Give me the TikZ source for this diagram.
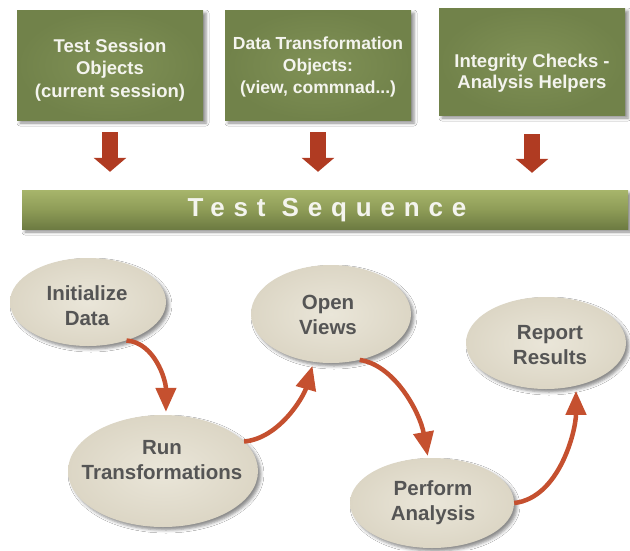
\documentclass[tikz,border=0pt]{standalone}
\usepackage{fontspec}
\setmainfont{Liberation Sans}
\usetikzlibrary{shapes.geometric, arrows.meta, shadows.blur}

\definecolor{boxlight}{HTML}{809156}
\definecolor{boxdark}{HTML}{71824A}
\definecolor{bartop}{HTML}{A7B56B}
\definecolor{barmid}{HTML}{8E9C57}
\definecolor{barbottom}{HTML}{6D7B42}
\definecolor{boxink}{HTML}{F4F4EE}
\definecolor{stagelight}{HTML}{EAE6D9}
\definecolor{stagedark}{HTML}{DCD6C5}
\definecolor{stageink}{HTML}{555555}
\definecolor{flowred}{HTML}{C5502F}
\definecolor{feedred}{HTML}{B03B22}

\begin{document}
\begin{tikzpicture}[x=1pt, y=-1pt,
  softshadow/.style={blur shadow={shadow xshift=3pt, shadow yshift=-3pt,
      shadow blur radius=3pt, shadow opacity=45}},
  topbox/.style={rectangle, inner sep=0pt, minimum width=186pt,
      minimum height=110pt, inner color=boxlight, outer color=boxdark, softshadow},
  boxtext/.style={text=boxink, align=center, inner sep=0pt,
      font=\fontsize{18.5}{22.5}\selectfont\bfseries},
  seqbar/.style={rectangle, inner sep=0pt, minimum width=606pt, minimum height=39pt,
      top color=bartop, bottom color=barbottom, middle color=barmid, softshadow},
  seqtext/.style={text=boxink, inner sep=0pt,
      font=\fontsize{26}{30}\selectfont\bfseries\addfontfeature{LetterSpace=34}},
  stage/.style={ellipse, inner sep=0pt, inner color=stagelight,
      outer color=stagedark, softshadow},
  stagetext/.style={text=stageink, align=center, inner sep=0pt,
      font=\fontsize{20.5}{25}\selectfont\bfseries},
  feed/.style={draw=feedred, line width=16pt, -{Triangle[length=14pt, width=32pt]}},
  flow/.style={draw=flowred, line width=4.5pt, -{Triangle[length=24pt, width=20pt]}}
]
\useasboundingbox (0,0) rectangle (630,550);
\fill[white] (0,0) rectangle (630,550);

% input objects
\node[topbox] (b1) at (110,65) {};
\node[boxtext] (t1) at (110,70) {Test Session\\Objects\\(current session)};
\node[topbox] (b2) at (318,65) {};
\node[boxtext, font=\fontsize{17.5}{22}\selectfont\bfseries] (t2) at (318,67)
  {Data Transformation\\Objects:\\(view, commnad...)};
\node[topbox, minimum height=107pt] (b3) at (532,61.5) {};
\node[boxtext, font=\fontsize{18.5}{20.5}\selectfont\bfseries] (t3) at (532,73)
  {Integrity Checks -\\Analysis Helpers};

% sequence bar
\node[seqbar] (seq) at (325,209.5) {};
\node[seqtext] (st) at (327,210) {Test Sequence};

% feeds into the sequence
\draw[feed, shorten <=12pt, shorten >=18pt] (b1.south) -- (b1.south |- seq.north);
\draw[feed, shorten <=12pt, shorten >=18pt] (b2.south) -- (b2.south |- seq.north);
\draw[feed, shorten <=19pt, shorten >=17pt] (b3.south) -- (b3.south |- seq.north);

% stages
\node[stage, minimum width=156pt, minimum height=88pt] (init) at (88,302) {};
\node[stagetext] (tinit) at (87,305.5) {Initialize\\Data};
\node[stage, minimum width=190pt, minimum height=112pt] (run) at (163,471) {};
\node[stagetext] (trun) at (162,460.5) {Run\\Transformations};
\node[stage, minimum width=160pt, minimum height=98pt] (open) at (331,314) {};
\node[stagetext] (topen) at (328,315) {Open\\Views};
\node[stage, minimum width=164pt, minimum height=90pt] (perf) at (432,503) {};
\node[stagetext] (tperf) at (433,503) {Perform\\Analysis};
\node[stage, minimum width=160pt, minimum height=92pt] (rep) at (546,343) {};
\node[stagetext] (trep) at (550,345) {Report\\Results};

% flow between stages
\draw[flow, shorten >=3pt] (init.-45) .. controls +(28,2) and +(0,-35) .. (run.87);
\draw[flow, shorten >=4pt] (run.20) .. controls +(35,-3) and +(-10,35) .. (open.-110);
\draw[flow, shorten >=2pt] (open.-58) .. controls +(35,5) and +(-8,-45) .. (perf.95);
\draw[flow, shorten >=5pt] (perf.0) .. controls +(45,-5) and +(0,45) .. (rep.-55);
\end{tikzpicture}
\end{document}
